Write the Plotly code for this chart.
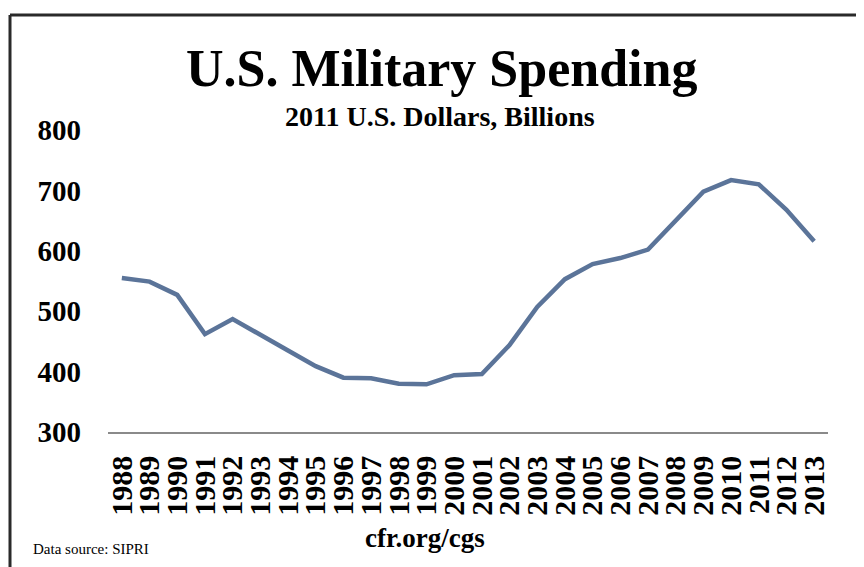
import plotly.graph_objects as go

# SIPRI, 2011 U.S. dollars, billions
years = [str(y) for y in range(1988, 2014)]
spending = [555, 549, 527, 462, 487, 462, 435, 409, 390, 389, 380, 379, 394,
            396, 444, 507, 553, 578, 588, 602, 649, 698, 717, 710, 668, 616]

y_ticks = [300, 400, 500, 600, 700, 800]

SERIF = "Liberation Serif, Times New Roman, serif"

W, H = 864, 567
OFF = 8  # page body margin pushes the figure 8px right and down

# plot area in reference pixels: left 108, right 828, top 130, bottom 432
L, R, T, B = 108 - OFF, W - (828 - OFF), 130 - OFF, H - (432 - OFF)
PW, PH = W - L - R, H - T - B


def px(x):
    return (x - OFF - L) / PW


def py(y):
    return (H - B - (y - OFF)) / PH


fig = go.Figure()
fig.add_trace(go.Scatter(
    x=years,
    y=spending,
    mode="lines",
    line=dict(color="#5B7499", width=4.5),
    hoverinfo="x+y",
))

fig.update_layout(
    width=W,
    height=H,
    margin=dict(l=L, r=R, t=T, b=B),
    paper_bgcolor="white",
    plot_bgcolor="white",
    showlegend=False,
    font=dict(family=SERIF, color="black"),
)

fig.update_xaxes(
    type="category",
    range=[-0.5, len(years) - 0.5],
    tickmode="array",
    tickvals=years,
    showgrid=False,
    showline=True,
    linecolor="#8A8A8A",
    linewidth=1.5,
    ticks="",
    tickangle=-90,
    ticklabelstandoff=10,
    tickfont=dict(family=SERIF, size=30, color="black", weight="bold"),
)
fig.update_yaxes(
    range=[300, 800],
    tickvals=y_ticks,
    showgrid=False,
    showline=False,
    zeroline=False,
    ticks="",
    ticklabelstandoff=26,
    tickfont=dict(family=SERIF, size=29, color="black", weight="bold"),
)

fig.add_annotation(
    x=px(441), y=py(68), xref="paper", yref="paper",
    text="<b>U.S. Military Spending</b>", showarrow=False,
    font=dict(family=SERIF, size=52, color="black"),
    xanchor="center", yanchor="middle",
)
fig.add_annotation(
    x=px(440), y=py(117), xref="paper", yref="paper",
    text="<b>2011 U.S. Dollars, Billions</b>", showarrow=False,
    font=dict(family=SERIF, size=28, color="black"),
    xanchor="center", yanchor="middle",
)
fig.add_annotation(
    x=px(425), y=py(538), xref="paper", yref="paper",
    text="<b>cfr.org/cgs</b>", showarrow=False,
    font=dict(family=SERIF, size=27, color="black"),
    xanchor="center", yanchor="middle",
)
fig.add_annotation(
    x=px(31), y=py(549), xref="paper", yref="paper",
    text="Data source: SIPRI", showarrow=False,
    font=dict(family=SERIF, size=15, color="black"),
    xanchor="left", yanchor="middle",
)

# frame: top and left edges only
fig.add_shape(type="line", xref="paper", yref="paper",
              x0=px(10), x1=px(880), y0=py(15), y1=py(15),
              line=dict(color="#2A2A2A", width=3))
fig.add_shape(type="line", xref="paper", yref="paper",
              x0=px(10), x1=px(10), y0=py(15), y1=py(580),
              line=dict(color="#2A2A2A", width=3))

fig.write_html("out.html")
